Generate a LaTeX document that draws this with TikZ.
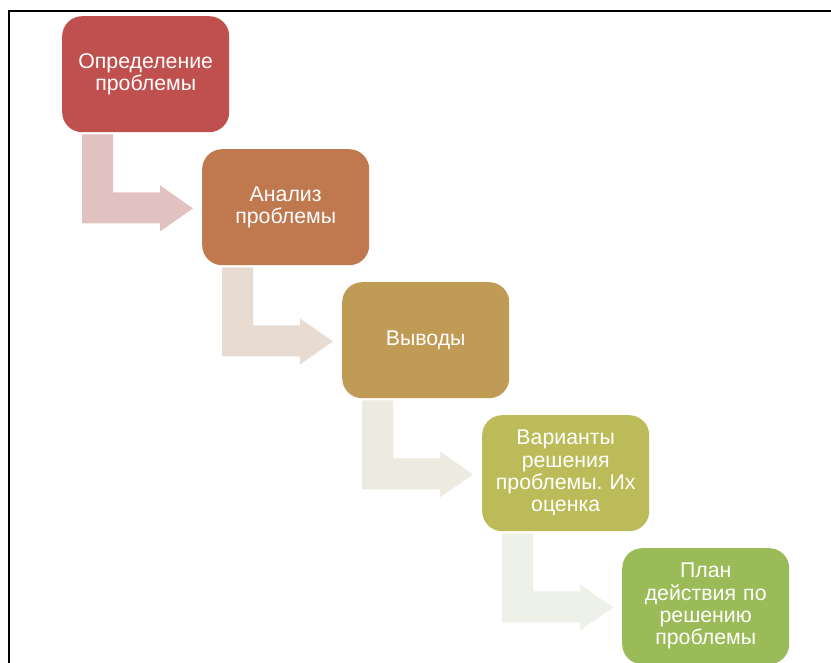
\documentclass[tikz,border=0pt]{standalone}
\usepackage{fontspec}
\setmainfont{Liberation Sans}
\frenchspacing
\definecolor{c1}{HTML}{C0504D}
\definecolor{c2}{HTML}{C0784F}
\definecolor{c3}{HTML}{BF9B55}
\definecolor{c4}{HTML}{BCBB5A}
\definecolor{c5}{HTML}{9BBB59}
\definecolor{a1}{HTML}{E2C1C1}
\definecolor{a2}{HTML}{E8DCD2}
\definecolor{a3}{HTML}{EDEADF}
\definecolor{a4}{HTML}{EEF1E7}
\begin{document}
\begin{tikzpicture}[x=1pt,y=-1pt,
  box/.style={rectangle, rounded corners=20pt, minimum width=167pt, minimum height=116pt,
    anchor=north west, inner sep=3pt, text width=160pt, align=center, text=white,
    font=\fontsize{21.3pt}{22.3pt}\selectfont},
  bentarrow/.style={fill=#1, draw=none}]
\useasboundingbox (0,0) rectangle (831,663);
\fill[white] (0,0) rectangle (831,663);
\draw[line width=1.5pt, black] (9,663) -- (9,11) -- (831,11);
\begin{scope}
\clip (0,0) rectangle (831,663);
\node[box, fill=c1] (b1) at (62,16) {Определение\\проблемы};
\node[box, fill=c2] (b2) at (202,149) {Анализ\\проблемы};
\node[box, fill=c3] (b3) at (342,282) {Выводы};
\node[box, fill=c4] (b4) at (482,415) {Варианты\\решения\\проблемы.\ Их\\оценка};
\node[box, fill=c5] (b5) at (622,548) {План\\действия по\\решению\\проблемы};
\foreach \b/\c in {b1/a1,b2/a2,b3/a3,b4/a4}{
  \fill[bentarrow=\c, shift={(\b.south west)}]
    (20,2) -- (51,2) -- (51,60) -- (98,60) -- (98,53) -- (131,76) -- (98,99) -- (98,91) -- (20,91) -- cycle;
}
\end{scope}
\end{tikzpicture}
\end{document}
